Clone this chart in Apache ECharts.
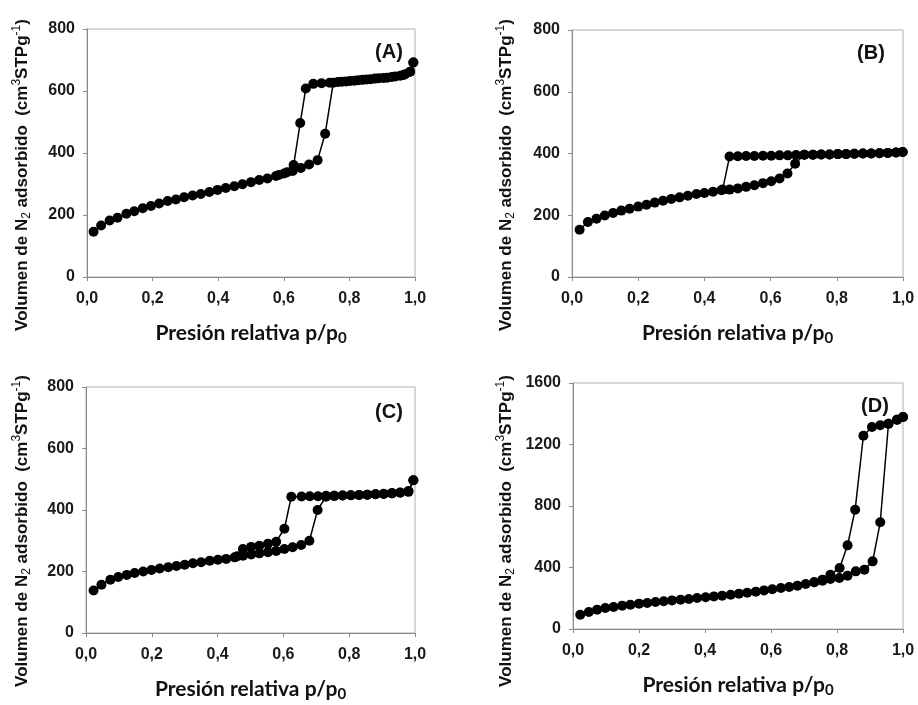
<!DOCTYPE html>
<html>
<head>
<meta charset="utf-8">
<script src="https://cdn.jsdelivr.net/npm/echarts@6/dist/echarts.min.js"></script>
<style>
  html, body { margin: 0; padding: 0; background: #fff; }
  #chart { width: 918px; height: 705px; }
</style>
</head>
<body>
<div id="chart"></div>
<script>
// isotermas de adsorción / desorción de N2, [p/p0, volumen]
const adsA = [[0.020,146],[0.043,166],[0.069,182],[0.093,191],[0.120,204],[0.144,212],[0.170,222],[0.195,229],[0.220,237],[0.246,245],[0.271,250],[0.296,257],[0.322,263],[0.347,268],[0.373,274],[0.398,281],[0.423,287],[0.449,293],[0.474,299],[0.500,306],[0.525,313],[0.550,318],[0.576,326],[0.601,334],[0.627,342],[0.652,352],[0.677,363],[0.703,377],[0.726,462],[0.751,627],[0.777,630],[0.802,632],[0.827,635],[0.853,637],[0.878,640],[0.904,642],[0.929,645],[0.955,649],[0.970,654],[0.985,662],[0.995,692]]
const desA = [[0.995,692],[0.985,662],[0.965,652],[0.940,647],[0.915,643],[0.890,641],[0.865,638],[0.840,636],[0.815,633],[0.790,631],[0.765,629],[0.740,627],[0.715,625],[0.690,623],[0.667,608],[0.650,497],[0.630,361],[0.610,338],[0.585,329]]

const adsB = [[0.023,153],[0.048,178],[0.074,189],[0.099,199],[0.124,207],[0.149,215],[0.174,221],[0.200,228],[0.225,234],[0.250,241],[0.275,247],[0.300,253],[0.325,258],[0.350,263],[0.376,269],[0.400,272],[0.426,276],[0.451,281],[0.476,283],[0.501,287],[0.526,292],[0.551,297],[0.577,304],[0.602,310],[0.627,319],[0.651,335],[0.674,367],[0.702,396],[0.728,396],[0.753,397],[0.778,397],[0.803,398],[0.828,398],[0.853,399],[0.879,400],[0.904,400],[0.929,401],[0.954,402],[0.979,403],[0.999,405]]
const desB = [[0.999,405],[0.979,403],[0.954,402],[0.929,401],[0.904,400],[0.879,400],[0.853,399],[0.828,398],[0.803,398],[0.778,397],[0.753,397],[0.728,396],[0.702,396],[0.677,395],[0.652,394],[0.627,394],[0.602,393],[0.577,393],[0.551,392],[0.526,392],[0.501,391],[0.476,390],[0.455,283]]

const adsC = [[0.023,138],[0.047,157],[0.074,173],[0.098,182],[0.124,189],[0.148,195],[0.174,200],[0.199,205],[0.224,210],[0.250,214],[0.275,218],[0.300,222],[0.325,227],[0.350,230],[0.376,235],[0.401,238],[0.426,241],[0.452,246],[0.477,251],[0.502,255],[0.527,259],[0.553,263],[0.578,267],[0.603,273],[0.628,279],[0.654,286],[0.679,300],[0.704,400],[0.729,443],[0.754,446],[0.780,447],[0.805,448],[0.830,449],[0.855,450],[0.880,451],[0.905,452],[0.930,454],[0.955,456],[0.980,459],[0.995,497]]
const desC = [[0.995,497],[0.980,462],[0.955,457],[0.930,455],[0.905,453],[0.880,451],[0.855,450],[0.830,449],[0.805,448],[0.780,447],[0.755,446],[0.730,446],[0.705,445],[0.680,445],[0.655,444],[0.624,443],[0.603,339],[0.578,297],[0.553,290],[0.527,284],[0.502,280],[0.477,273],[0.460,250]]

const adsD = [[0.022,93],[0.048,111],[0.073,126],[0.098,137],[0.123,143],[0.149,152],[0.174,158],[0.200,165],[0.225,169],[0.250,176],[0.275,180],[0.300,186],[0.326,191],[0.351,195],[0.376,202],[0.402,206],[0.427,212],[0.452,217],[0.478,223],[0.503,230],[0.528,236],[0.554,243],[0.579,251],[0.604,258],[0.630,267],[0.655,273],[0.680,282],[0.705,293],[0.731,304],[0.756,314],[0.780,325],[0.807,332],[0.832,347],[0.857,375],[0.883,386],[0.908,440],[0.931,694],[0.956,1335],[0.982,1361],[1.000,1379]]
const desD = [[1.000,1379],[0.982,1361],[0.956,1335],[0.931,1325],[0.906,1314],[0.880,1257],[0.855,776],[0.832,544],[0.808,397],[0.780,353],[0.756,321],[0.731,304]]

const panelNames = ['(A)', '(B)', '(C)', '(D)']
const yMax = [800, 800, 800, 1600]
const yStep = [200, 200, 200, 400]
const xTitle = 'Presión relativa p/p{sub|0}'
const yTitle = 'Volumen de N{sub|2} adsorbido  (cm{sup|3}STPg{sup|-1})'

const isotherms = [[adsA, desA], [adsB, desB], [adsC, desC], [adsD, desD]]

const grids = [
  { left: 87, top: 29, width: 328, height: 248 },
  { left: 572, top: 30, width: 331, height: 247 },
  { left: 86, top: 387, width: 329, height: 246 },
  { left: 573, top: 383, width: 330, height: 246 },
]
const panelLabelPos = [[389, 52], [871, 53], [389, 412], [875, 406]]
const yTitlePos = [[22, 175], [506, 175], [22, 531], [506, 531]]

const font = '"Liberation Sans", Arial, sans-serif'
const titleFont = 'Lato, "Open Sans", sans-serif'
const axisGray = '#8a8a8a'

const chart = echarts.init(document.getElementById('chart'), null, { renderer: 'canvas' })

const xAxis = grids.map((g, i) => ({
  gridIndex: i,
  type: 'value',
  min: 0,
  max: 1,
  interval: 0.2,
  axisLine: { show: true, lineStyle: { color: axisGray, width: 1 } },
  axisTick: { show: true, length: 4, lineStyle: { color: axisGray } },
  splitLine: { show: false },
  axisLabel: {
    margin: 14,
    color: '#1a1a1a',
    fontWeight: 'bold',
    fontSize: 16,
    fontFamily: font,
    formatter: v => v.toFixed(1).replace('.', ','),
  },
  name: xTitle,
  nameLocation: 'middle',
  nameGap: 43,
  nameTextStyle: {
    color: '#111',
    fontWeight: 'bold',
    fontSize: 21,
    fontFamily: titleFont,
    lineHeight: 26,
    rich: {
      sub: { fontSize: 15, fontWeight: 'bold', fontFamily: titleFont, color: '#111', verticalAlign: 'bottom' },
    },
  },
}))

const yAxis = grids.map((g, i) => ({
  gridIndex: i,
  type: 'value',
  min: 0,
  max: yMax[i],
  interval: yStep[i],
  axisLine: { show: true, lineStyle: { color: axisGray, width: 1 } },
  axisTick: { show: true, length: 4, lineStyle: { color: axisGray } },
  splitLine: { show: false },
  axisLabel: {
    margin: 12,
    color: '#1a1a1a',
    fontWeight: 'bold',
    fontSize: 16,
    fontFamily: font,
    formatter: v => String(v),
  },
}))

const series = []
isotherms.forEach((pair, i) => {
  pair.forEach((data, k) => {
    series.push({
      name: (k === 0 ? 'adsorción ' : 'desorción ') + panelNames[i],
      type: 'line',
      xAxisIndex: i,
      yAxisIndex: i,
      data: data,
      symbol: 'circle',
      symbolSize: 10,
      showAllSymbol: true,
      itemStyle: { color: '#000' },
      lineStyle: { color: '#000', width: 1.5 },
      z: 3 + k,
    })
  })
})

const graphic = []
panelNames.forEach((t, i) => {
  graphic.push({
    type: 'text',
    x: panelLabelPos[i][0],
    y: panelLabelPos[i][1],
    style: { text: t, fill: '#111', font: 'bold 20px ' + font, align: 'center', verticalAlign: 'middle' },
  })
  graphic.push({
    type: 'text',
    x: yTitlePos[i][0],
    y: yTitlePos[i][1],
    rotation: Math.PI / 2,
    style: {
      text: yTitle,
      fill: '#111',
      fontSize: 17,
      fontWeight: 'bold',
      fontFamily: font,
      lineHeight: 22,
      align: 'center',
      verticalAlign: 'middle',
      rich: {
        sub: { fontSize: 12, fontWeight: 'normal', fontFamily: font, fill: '#111', verticalAlign: 'bottom' },
        sup: { fontSize: 12, fontWeight: 'normal', fontFamily: font, fill: '#111', verticalAlign: 'top' },
      },
    },
  })
})

chart.setOption({
  animation: false,
  backgroundColor: '#fff',
  grid: grids.map(g => Object.assign({ show: true, borderColor: '#b0b0b0', borderWidth: 1, containLabel: false }, g)),
  xAxis,
  yAxis,
  series,
  graphic,
})
</script>
</body>
</html>
